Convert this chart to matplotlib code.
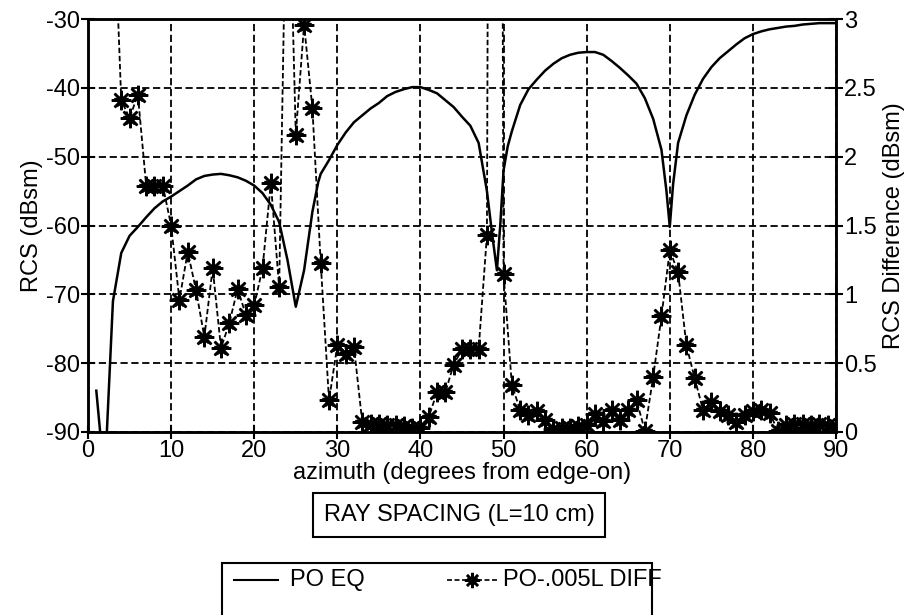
import matplotlib
matplotlib.use("Agg")
import matplotlib.pyplot as plt
from matplotlib.lines import Line2D
from matplotlib.patches import Rectangle

plt.rcParams['font.family'] = ['Liberation Sans', 'DejaVu Sans']
plt.rcParams['axes.unicode_minus'] = False

# PO EQ (RCS, dBsm) vs azimuth
po_eq_az = [1, 2, 3, 4, 5, 6, 7, 8, 9, 10, 11, 12, 13, 14, 15, 16, 17, 18, 19, 20,
            21, 22, 23, 24, 25, 26, 27, 27.7, 28, 29, 30, 31, 32, 33, 34, 35, 36, 37, 38, 39,
            40, 41, 42, 43, 44, 45, 46, 47, 48, 48.6, 49.2, 49.6, 50, 50.5, 51, 52, 53, 54, 55, 56,
            57, 58, 59, 60, 61, 62, 63, 64, 65, 66, 67, 68, 69, 69.6, 70, 70.4, 71, 72, 73, 74,
            75, 76, 77, 78, 79, 80, 81, 82, 83, 84, 85, 86, 87, 88, 89, 90]
po_eq_rcs = [-84, -97, -71, -64, -61.5, -60.2, -58.8, -57.5, -56.5, -55.8, -55, -54.2, -53.3, -52.8, -52.6, -52.5, -52.7, -53, -53.5, -54.2,
             -55.3, -57, -59.5, -65, -71.8, -66.5, -58, -53.7, -52.5, -50.5, -48.3, -46.5, -45, -44, -43, -42.2, -41.2, -40.6, -40.2, -39.9,
             -39.9, -40.3, -40.8, -41.8, -42.8, -44.2, -45.5, -48, -55, -61, -66.5, -60, -52, -48.5, -46.3, -42.5, -40.2, -38.8, -37.5, -36.5,
             -35.7, -35.2, -34.9, -34.8, -34.8, -35.2, -36.1, -37.1, -38.2, -39.4, -41.5, -44.5, -49, -55, -60.2, -54, -48, -44, -41, -38.7,
             -37, -35.7, -34.7, -33.7, -32.8, -32.2, -31.8, -31.5, -31.3, -31.1, -31, -30.8, -30.7, -30.6, -30.6, -30.6]

# PO-.005L DIFF (dBsm) vs azimuth
diff_az = list(range(3, 91))
diff_val = [4.0, 2.41, 2.28, 2.45, 1.79, 1.79, 1.79, 1.50, 0.96, 1.31,
            1.03, 0.69, 1.19, 0.61, 0.79, 1.04, 0.85, 0.92, 1.19, 1.81,
            1.05, 4.5, 2.16, 2.96, 2.35, 1.23, 0.23, 0.63, 0.57, 0.62,
            0.07, 0.06, 0.06, 0.05, 0.05, 0.04, 0.03, 0.03, 0.11, 0.29,
            0.29, 0.49, 0.60, 0.60, 0.60, 1.43, 20.0, 1.15, 0.34, 0.16,
            0.12, 0.15, 0.09, 0.02, 0.03, 0.03, 0.04, 0.05, 0.13, 0.08,
            0.16, 0.09, 0.16, 0.23, 0.01, 0.40, 0.84, 1.32, 1.16, 0.63,
            0.39, 0.16, 0.22, 0.15, 0.12, 0.07, 0.12, 0.15, 0.16, 0.14,
            0.01, 0.05, 0.06, 0.06, 0.05, 0.06, 0.05, 0.04]

x_ticks = list(range(0, 91, 10))
left_ticks = [-90, -80, -70, -60, -50, -40, -30]
right_ticks = [0, 0.5, 1, 1.5, 2, 2.5, 3]
right_labels = ['0', '0.5', '1', '1.5', '2', '2.5', '3']

W, H = 917, 615
fig = plt.figure(figsize=(W/100, H/100), dpi=100)
ax = fig.add_axes([88/W, 1-432/H, (836-88)/W, (432-19)/H])
ax2 = ax.twinx()

FS = 17
DASH = (0, (3, 1.5))
ax.plot(po_eq_az, po_eq_rcs, color='black', lw=1.8, zorder=3)
ax.set_xlim(0, 90)
ax.set_ylim(-90, -30)
ax.set_xticks(x_ticks)
ax.set_yticks(left_ticks)
ax.grid(True, color='black', linestyle=(0, (4, 2)), linewidth=1.3)
ax.tick_params(direction='inout', length=10, width=1.5, labelsize=FS, pad=1)
ax.set_xlabel('azimuth (degrees from edge-on)', fontsize=FS, labelpad=0)
ax.set_ylabel('RCS (dBsm)', fontsize=FS, labelpad=2)

ax2.plot(diff_az, diff_val, color='black', lw=1.3, linestyle=DASH,
         marker='*', markersize=10, zorder=3)
ax2.plot(diff_az, diff_val, color='black', lw=0, marker=(8, 2, 0),
         markersize=14, markeredgewidth=1.8, zorder=3)
ax2.set_ylim(0, 3)
ax2.set_yticks(right_ticks)
ax2.set_yticklabels(right_labels)
ax2.tick_params(direction='inout', length=10, width=1.5, labelsize=FS, pad=1)
ax2.set_ylabel('RCS Difference (dBsm)', fontsize=FS, labelpad=4)

for a in (ax, ax2):
    for s in a.spines.values():
        s.set_linewidth(1.8)

fig.text(459/W, 1-515/H, 'RAY SPACING (L=10 cm)', fontsize=FS, ha='center', va='center',
         bbox=dict(boxstyle='square,pad=0.45', fc='white', ec='black', lw=1.5))

# legend box (cut off by the bottom edge, as in the reference)
fig.patches.append(Rectangle((222/W, -20/H), (652-222)/W, (20+H-563)/H,
                             transform=fig.transFigure, fc='white', ec='black', lw=1.5))
ly = 1-580/H
fig.lines.append(Line2D([234/W, 278/W], [ly, ly], transform=fig.transFigure,
                        color='black', lw=1.5))
fig.text(290/W, ly, 'PO EQ', fontsize=FS, ha='left', va='center')
fig.lines.append(Line2D([447/W, 497/W], [ly, ly], transform=fig.transFigure,
                        color='black', lw=1.2, linestyle=DASH))
fig.lines.append(Line2D([472/W], [ly], transform=fig.transFigure, color='black', lw=0,
                        marker=(8, 2, 0), markersize=11, markeredgewidth=1.8))
fig.lines.append(Line2D([472/W], [ly], transform=fig.transFigure, color='black', lw=0,
                        marker='*', markersize=8))
fig.text(503/W, ly, 'PO-.005L DIFF', fontsize=FS, ha='left', va='center')

fig.savefig('out.png', dpi=100)
